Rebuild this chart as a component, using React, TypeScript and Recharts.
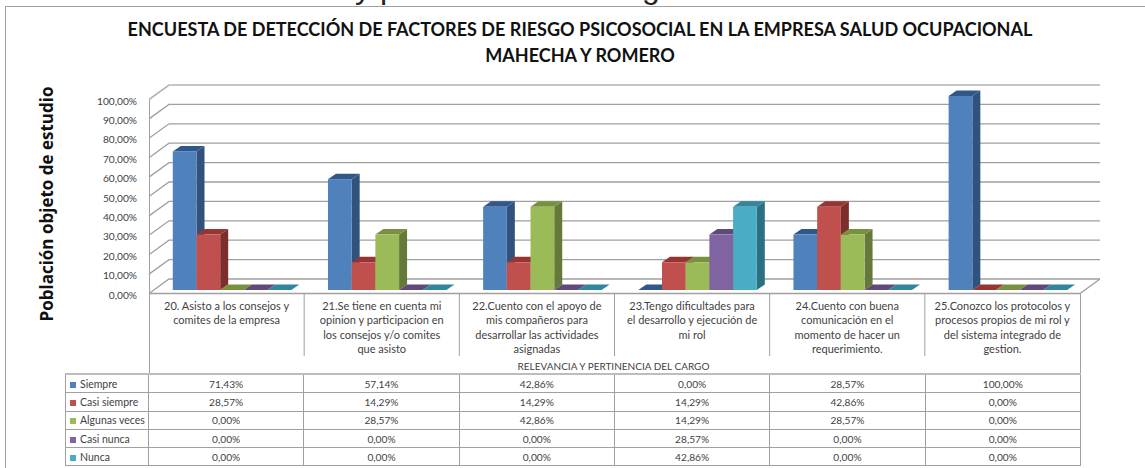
import { BarChart, Bar, XAxis, YAxis, CartesianGrid } from "recharts";

const categories = [
  "20. Asisto a los consejos y\ncomites de la empresa",
  "21.Se tiene en cuenta mi\nopinion y participacion en\nlos consejos y/o comites\nque asisto",
  "22.Cuento con el apoyo de\nmis compañeros para\ndesarrollar las actividades\nasignadas",
  "23.Tengo dificultades para\nel desarrollo y ejecución de\nmi rol",
  "24.Cuento con buena\ncomunicación en el\nmomento de hacer un\nrequerimiento.",
  "25.Conozco los protocolos y\nprocesos propios de mi rol y\ndel sistema integrado de\ngestion.",
];
const siempre = [71.43, 57.14, 42.86, 0, 28.57, 100];
const casiSiempre = [28.57, 14.29, 14.29, 14.29, 42.86, 0];
const algunasVeces = [0, 28.57, 42.86, 14.29, 28.57, 0];
const casiNunca = [0, 0, 0, 28.57, 0, 0];
const nunca = [0, 0, 0, 42.86, 0, 0];
const yTicks = [0, 10, 20, 30, 40, 50, 60, 70, 80, 90, 100];

const series = [
  { name: "Siempre", values: siempre, front: "#4f81bd", side: "#31527c", top: "#30568a" },
  { name: "Casi siempre", values: casiSiempre, front: "#c0504d", side: "#7c2e2c", top: "#973532" },
  { name: "Algunas veces", values: algunasVeces, front: "#9bbb59", side: "#657a3a", top: "#78913f" },
  { name: "Casi nunca", values: casiNunca, front: "#8064a2", side: "#4f3e68", top: "#5f4a7a" },
  { name: "Nunca", values: nunca, front: "#4bacc6", side: "#2a6f82", top: "#31859c" },
];

const data = categories.map((name, i) => {
  const row: Record<string, string | number> = { name };
  series.forEach((s) => (row[s.name] = s.values[i]));
  return row;
});

const FONT = "Lato, sans-serif";
const TEXT = "#3f3f3f";
const LINE = "#a0a0a0";
const BAND = (1080 - 149) / 6;
const fmt = (v: number) => v.toFixed(2).replace(".", ",") + "%";

function Bar3D(props: any) {
  const { x, y, width, height, s } = props;
  const dx = 8;
  const dy = 5.5;
  const left = x + 5.8;
  const right = left + width;
  const bottom = y + height;
  return (
    <g>
      <polygon points={`${right},${y} ${right + dx},${y - dy} ${right + dx},${bottom - dy} ${right},${bottom}`} fill={s.side} />
      <polygon points={`${left},${y} ${left + dx},${y - dy} ${right + dx},${y - dy} ${right},${y}`} fill={s.top} />
      <rect x={left} y={y} width={width} height={height} fill={s.front} />
    </g>
  );
}

// gridlines run along the back wall and fold forward on the left side wall
function WallLine(props: any) {
  const { x1, x2, y1 } = props;
  const isFloor = Math.abs(y1 - 290) < 1;
  const isTop = Math.abs(y1 - 96) < 1;
  return (
    <g fill="none" stroke={isTop ? "#b4b4b4" : LINE} strokeWidth={isTop ? 1.6 : 1.3}>
      <polyline points={`${x1},${y1 + 3.5} ${x1 + 20},${y1 - 11} ${x2 + 20},${y1 - 11}`} />
      {isFloor && <polyline points={`${x1},${y1 + 3.5} ${x2},${y1 + 3.5} ${x2 + 20},${y1 - 11}`} />}
    </g>
  );
}

function CategoryTick(props: any) {
  const { x, y, payload, index } = props;
  const lines = String(payload.value).split("\n");
  const sep = x + BAND / 2;
  return (
    <g>
      {index < 5 && <line x1={sep} x2={sep} y1={y + 4} y2={y + 66} stroke={LINE} />}
      <text x={x} y={y + 20} textAnchor="middle" fontFamily={FONT} fontSize={11} fill={TEXT}>
        {lines.map((l, i) => (
          <tspan key={i} x={x} dy={i === 0 ? 0 : 14.4}>
            {l}
          </tspan>
        ))}
      </text>
    </g>
  );
}

function PercentTick(props: any) {
  const { y, payload } = props;
  return (
    <text x={137} y={y + 8.5} textAnchor="end" fontFamily={FONT} fontSize={10.2} fill={TEXT}>
      {fmt(payload.value)}
    </text>
  );
}

function DataTable() {
  const cell = {
    borderRight: `1px solid ${LINE}`,
    borderBottom: `1px solid ${LINE}`,
    textAlign: "center" as const,
    padding: 0,
    fontSize: 10.2,
    lineHeight: "12px",
  };
  return (
    <table
      style={{
        position: "absolute",
        left: 65,
        top: 373,
        width: 1016,
        tableLayout: "fixed",
        borderCollapse: "separate",
        borderSpacing: 0,
        borderTop: "2px solid #bdbdbd",
        borderLeft: `1px solid ${LINE}`,
        fontFamily: FONT,
        color: TEXT,
      }}
    >
      <colgroup>
        <col style={{ width: 83 }} />
        {categories.map((_, i) => (
          <col key={i} />
        ))}
      </colgroup>
      <tbody>
        {series.map((s) => (
          <tr key={s.name} style={{ height: 18.3 }}>
            <td style={{ ...cell, textAlign: "left", whiteSpace: "nowrap", fontSize: 10.5 }}>
              <span style={{ display: "inline-block", width: 6, height: 6, background: s.front, margin: "0 4px 0 4px" }} />
              {s.name}
            </td>
            {s.values.map((v, i) => (
              <td key={i} style={cell}>
                {fmt(v)}
              </td>
            ))}
          </tr>
        ))}
      </tbody>
    </table>
  );
}

export default function App() {
  const abs = { position: "absolute" as const };
  return (
    <div style={{ position: "absolute", left: 0, top: 0, width: 1145, height: 468, overflow: "hidden", background: "#fff" }}>
      <div style={{ ...abs, left: 355, top: -29, fontFamily: "Liberation Sans", fontSize: 32, lineHeight: "32px", color: "#222", whiteSpace: "pre" }}>y p</div>
      <div style={{ ...abs, left: 642, top: -29, fontFamily: "Liberation Sans", fontSize: 32, lineHeight: "32px", color: "#222" }}>g</div>
      <div style={{ ...abs, left: 5, top: 6, width: 1140, height: 470, borderTop: `1.5px solid ${LINE}`, borderLeft: `1.5px solid ${LINE}`, background: "#fff" }} />
      <div style={{ ...abs, left: 0, width: 1160, top: 16, textAlign: "center", fontFamily: FONT, fontWeight: 700, fontSize: 18.05, lineHeight: "26px", color: "#111" }}>
        ENCUESTA DE DETECCIÓN DE FACTORES DE RIESGO PSICOSOCIAL EN LA EMPRESA SALUD OCUPACIONAL
        <br />
        MAHECHA Y ROMERO
      </div>
      <div style={{ ...abs, left: 0, top: 0 }}>
        <BarChart
          width={1145}
          height={468}
          data={data}
          barGap={0}
          barSize={23.7}
          barCategoryGap={18.3}
          margin={{ top: 96, right: 65, bottom: 100, left: 19 }}
        >
          <CartesianGrid vertical={false} horizontal={(p: any) => <WallLine key={p.key} {...p} />} />
          <XAxis
            dataKey="name"
            height={78}
            interval={0}
            axisLine={false}
            tickLine={false}
            tickSize={0}
            tickMargin={0}
            tick={(p: any) => <CategoryTick {...p} />}
            label={{ value: "RELEVANCIA Y PERTINENCIA DEL CARGO", position: "insideBottom", offset: -2, dx: -1, fontFamily: FONT, fontSize: 10, fill: TEXT }}
          />
          <YAxis
            width={130}
            domain={[0, 100]}
            ticks={yTicks}
            interval={0}
            axisLine={false}
            tickLine={false}
            tick={(p: any) => <PercentTick {...p} />}
            label={{ value: "Población objeto de estudio", angle: -90, position: "insideLeft", offset: 28, dy: 11, style: { textAnchor: "middle", fontFamily: "Open Sans", fontWeight: 700, fontSize: 17, fill: "#111" } }}
          />
          {series.map((s) => (
            <Bar key={s.name} dataKey={s.name} fill={s.front} isAnimationActive={false} shape={(p: any) => <Bar3D {...p} s={s} />} />
          ))}
        </BarChart>
      </div>
      <div style={{ ...abs, left: 148.5, top: 100, width: 1, height: 274, background: LINE }} />
      <div style={{ ...abs, left: 1079.5, top: 294, width: 1, height: 80, background: LINE }} />
      <DataTable />
    </div>
  );
}
